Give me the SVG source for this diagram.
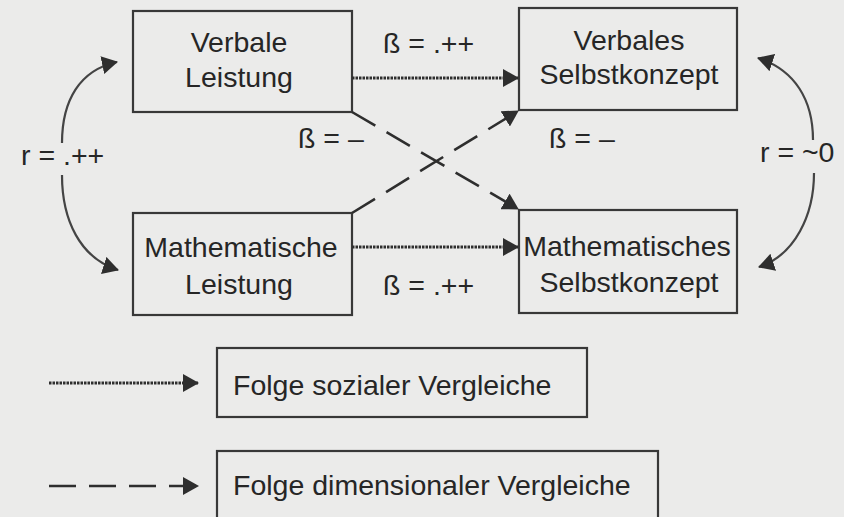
<svg xmlns="http://www.w3.org/2000/svg" width="844" height="517" viewBox="0 0 844 517">
<style>
.box{fill:none;stroke:#383838;stroke-width:2.2}
.t{font-family:"Liberation Sans",Arial,sans-serif;font-size:28.5px;fill:#262626}
.m{text-anchor:middle}
.dot{fill:none;stroke:#2e2e2e;stroke-width:3;stroke-dasharray:2.5 1}
.dash{fill:none;stroke:#2e2e2e;stroke-width:2.6;stroke-dasharray:27 13}
.cur{fill:none;stroke:#444;stroke-width:2.2}
</style>
<defs>
<marker id="ah" viewBox="0 0 16 18" refX="15" refY="9" markerWidth="16" markerHeight="18" markerUnits="userSpaceOnUse" orient="auto">
<path d="M0,0 L16,9 L0,18 Z" fill="#2e2e2e"/>
</marker>
</defs>
<rect width="844" height="517" fill="#ebebea"/>
<g id="verbale-leistung">
<rect class="box" x="133" y="11" width="219" height="101"/>
<text class="t m" x="239" y="52">Verbale</text>
<text class="t m" x="239" y="87">Leistung</text>
</g>
<g id="verbales-selbstkonzept">
<rect class="box" x="519" y="8" width="218" height="102"/>
<text class="t m" x="629" y="50">Verbales</text>
<text class="t m" x="629" y="84">Selbstkonzept</text>
</g>
<g id="mathematische-leistung">
<rect class="box" x="133" y="213" width="219" height="102"/>
<text class="t m" x="241" y="257">Mathematische</text>
<text class="t m" x="239" y="294">Leistung</text>
</g>
<g id="mathematisches-selbstkonzept">
<rect class="box" x="519" y="210" width="218" height="103"/>
<text class="t m" x="627" y="256">Mathematisches</text>
<text class="t m" x="629" y="292">Selbstkonzept</text>
</g>
<g id="folge-sozialer">
<rect class="box" x="217" y="348" width="370" height="69"/>
<text class="t" x="233" y="395">Folge sozialer Vergleiche</text>
</g>
<g id="folge-dimensionaler">
<rect class="box" x="217" y="451" width="441" height="80"/>
<text class="t" x="233" y="495">Folge dimensionaler Vergleiche</text>
</g>
<g id="connectors">
<line class="dot" x1="352" y1="78" x2="518" y2="78" marker-end="url(#ah)"/>
<line class="dot" x1="352" y1="247" x2="518" y2="247" marker-end="url(#ah)"/>
<line class="dash" x1="352" y1="112" x2="518" y2="209" marker-end="url(#ah)"/>
<line class="dash" x1="352" y1="213" x2="518" y2="111" marker-end="url(#ah)"/>
<path class="cur" d="M62,143 C62,100 80,70 117,62" marker-end="url(#ah)"/>
<path class="cur" d="M62,175 C62,220 80,258 118,270" marker-end="url(#ah)"/>
<path class="cur" d="M813,140 C813,100 795,70 758,58" marker-end="url(#ah)"/>
<path class="cur" d="M814,173 C814,215 795,255 759,267" marker-end="url(#ah)"/>
<line class="dot" x1="49" y1="383" x2="198" y2="383" marker-end="url(#ah)"/>
<line class="dash" x1="49" y1="486" x2="198" y2="486" marker-end="url(#ah)"/>
<text class="t" x="383" y="53">ß = .++</text>
<text class="t" x="383" y="295">ß = .++</text>
<text class="t" x="298" y="148">ß = –</text>
<text class="t" x="549" y="148">ß = –</text>
<text class="t" x="21" y="165">r = .++</text>
<text class="t" x="760" y="162">r = ~0</text>
</g>
</svg>
